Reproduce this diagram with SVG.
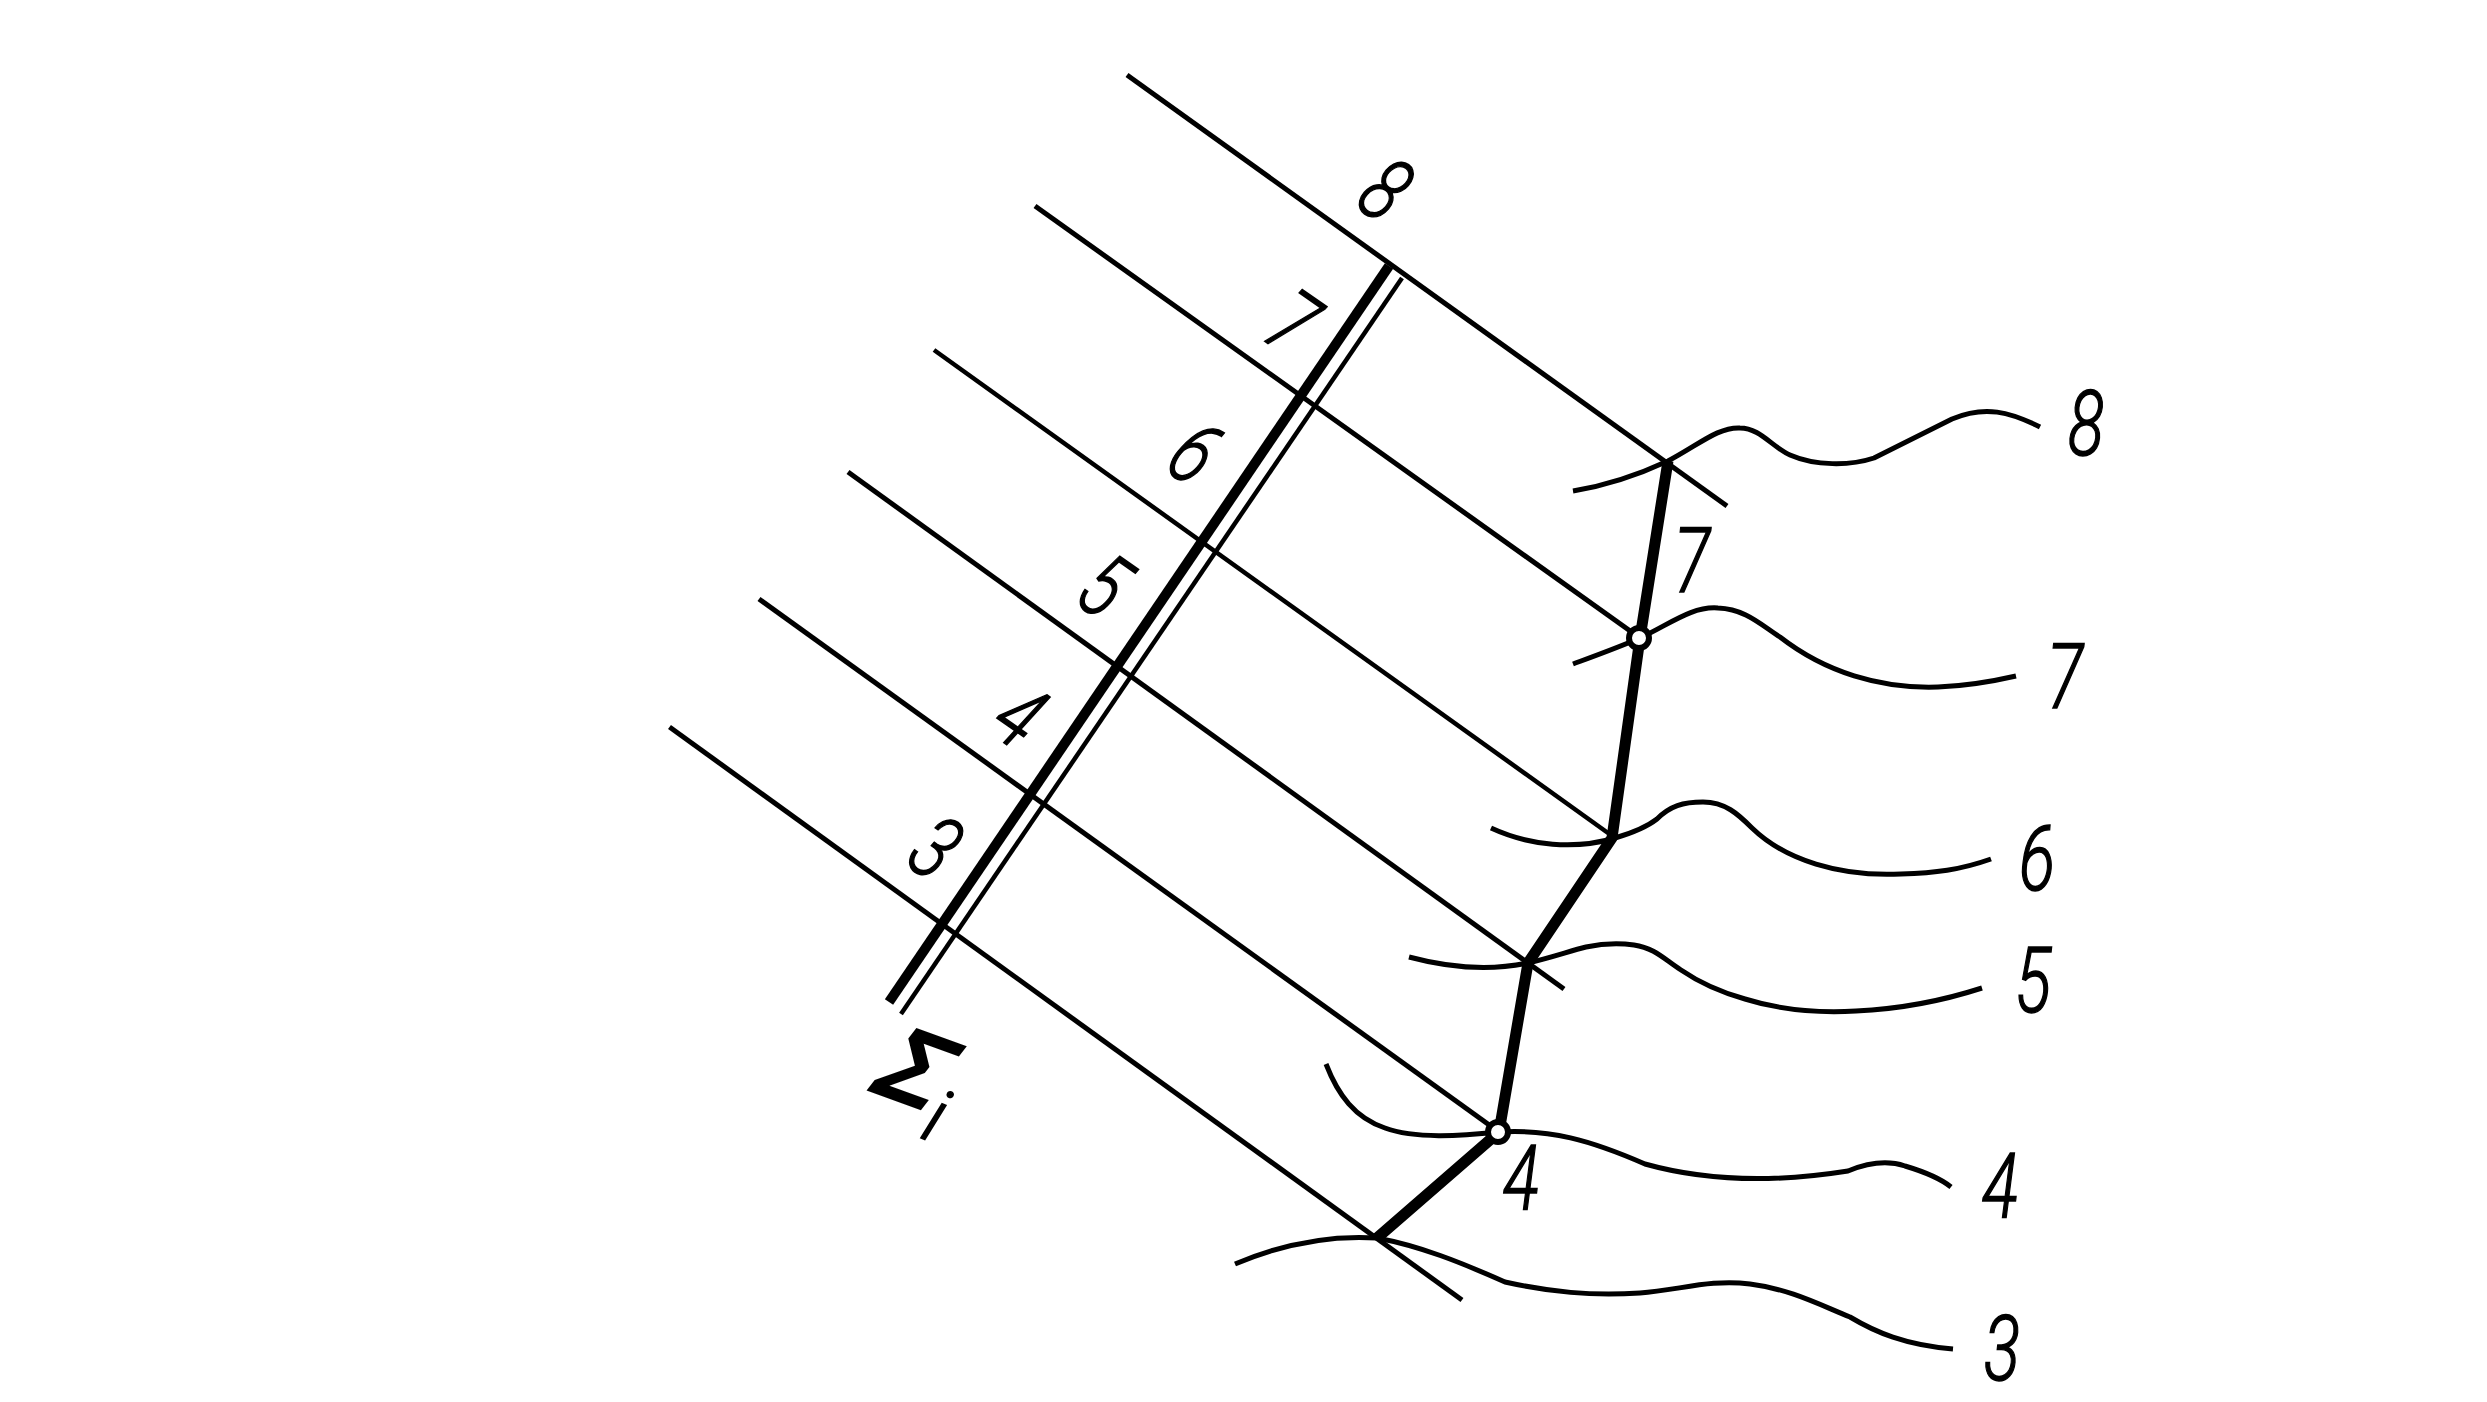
<svg xmlns="http://www.w3.org/2000/svg" width="2487" height="1402" viewBox="0 0 2487 1402">
<style>
.l{fill:none;stroke:#000;stroke-width:5;stroke-linecap:butt;stroke-linejoin:round}
.c{fill:none;stroke:#000;stroke-width:5;stroke-linejoin:round}
.t{font-family:"Roboto","Liberation Sans",sans-serif;font-weight:300;font-style:italic;font-size:90px;text-anchor:middle;fill:#000;stroke:#000;stroke-width:1.500}
</style>
<rect width="2487" height="1402" fill="#fff"/>
<g id="connectors">
<path class="l" d="M1127 75L1727 506"/>
<path class="l" d="M1035 206L1640 638"/>
<path class="l" d="M934 350L1615 838" style="stroke-width:4.500"/>
<path class="l" d="M848 472L1564 989"/>
<path class="l" d="M759 599L1499 1132"/>
<path class="l" d="M669.500 727L1462 1300"/>
<path class="l" d="M1389 266L889 1002" style="stroke-width:10"/>
<path class="l" d="M1402 278L901 1014" style="stroke-width:4.500"/>
<path class="l" d="M1377 1238L1499 1132L1528 963L1612 838L1640 638L1668 461" style="stroke-width:11"/>
<path class="c" d="M1573 491C1610 485 1640 474 1668 461C1700 444 1718 427 1740 428C1760 428 1772 447 1790 455C1815 466 1850 466 1874 458L1952 419C1985 405 2010 412 2040 427"/>
<path class="c" d="M1573 664C1600 654 1622 646 1640 638C1670 624 1692 606 1718 608C1745 609 1760 624 1780 637C1825 672 1880 689 1938 687C1965 686 1990 682 2016 676"/>
<path class="c" d="M1491 828C1530 846 1575 850 1615 838C1632 833 1648 826 1657 819C1670 806 1683 802 1703 802C1725 802 1738 814 1752 828C1785 860 1840 877 1901 874C1935 873 1960 870 1991 859"/>
<path class="c" d="M1409 957C1450 968 1490 971 1528 963C1550 958 1570 951 1586 947C1605 943 1620 943 1634 945C1655 948 1665 960 1681 970C1700 983 1720 992 1745 999C1780 1010 1820 1013 1856 1011C1900 1009 1945 1000 1982 988"/>
<path class="c" d="M1326 1064C1338 1095 1355 1118 1385 1128C1415 1139 1460 1136 1499 1132C1550 1129 1590 1140 1645 1164C1695 1178 1760 1185 1848 1171C1870 1162 1890 1161 1905 1166C1925 1172 1940 1178 1951 1187"/>
<path class="c" d="M1235 1264C1280 1245 1330 1235 1377 1238C1420 1246 1460 1262 1505 1282C1550 1292 1590 1296 1640 1293C1680 1290 1710 1279 1750 1284C1790 1289 1820 1305 1850 1317C1875 1332 1905 1345 1953 1349"/>
</g>
<g id="node-8-left"><text class="t" transform="translate(1386 189) rotate(35) scale(.75 1)" y="32">8</text></g>
<g id="node-7-left"><text class="t" transform="translate(1293 322) rotate(35) scale(.75 1)" y="32">7</text></g>
<g id="node-6-left"><text class="t" transform="translate(1195 452) rotate(35) scale(.75 1)" y="32">6</text></g>
<g id="node-5-left"><text class="t" transform="translate(1105 585) rotate(35) scale(.75 1)" y="32">5</text></g>
<g id="node-4-left"><text class="t" transform="translate(1020 715) rotate(35) scale(.75 1)" y="32">4</text></g>
<g id="node-3-left"><text class="t" transform="translate(936 847) rotate(35) scale(.75 1)" y="32">3</text></g>
<g id="node-sigma">
<text transform="translate(919 1067) rotate(20) skewX(-18)" y="40" style="font-family:'Liberation Sans',sans-serif;font-weight:700;font-size:110px;text-anchor:middle">Σ</text>
<text class="t" transform="translate(919 1137) rotate(22)" x="8" style="font-size:75px">i</text>
</g>
<g id="node-8"><text class="t" transform="translate(2086 423) scale(.75 1)" y="32">8</text></g>
<g id="node-7"><text class="t" transform="translate(2065 676) scale(.75 1)" y="32">7</text></g>
<g id="node-6"><text class="t" transform="translate(2037 858) scale(.75 1)" y="32">6</text></g>
<g id="node-5"><text class="t" transform="translate(2033 980) scale(.75 1)" y="32">5</text></g>
<g id="node-4"><text class="t" transform="translate(2000 1185) scale(.75 1)" y="32">4</text></g>
<g id="node-3"><text class="t" transform="translate(2002 1348) scale(.75 1)" y="32">3</text></g>
<g id="node-inner-7"><text class="t" transform="translate(1692 560) scale(.75 1)" y="32">7</text></g>
<g id="node-inner-4"><text class="t" transform="translate(1521 1177) scale(.75 1)" y="32">4</text></g>
<g id="point-7"><circle cx="1639" cy="638" r="10" fill="#fff" stroke="#000" stroke-width="6"/></g>
<g id="point-4"><circle cx="1498" cy="1132" r="10" fill="#fff" stroke="#000" stroke-width="6"/></g>
</svg>
